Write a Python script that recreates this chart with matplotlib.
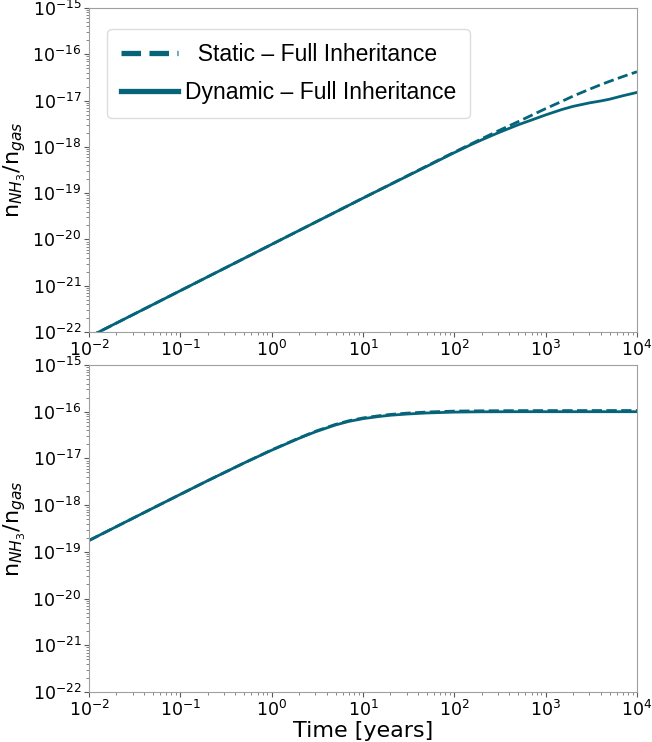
import matplotlib
matplotlib.use("Agg")
import matplotlib.pyplot as plt
from matplotlib.lines import Line2D
from matplotlib.ticker import LogLocator

# Time grid (years) and NH3 abundance relative to gas
time_top = [0.01, 0.1, 1.0, 10.0, 100.0, 150.0, 200.0, 300.0, 500.0, 700.0, 1000.0,
            1500.0, 2000.0, 3000.0, 4000.0, 5000.0, 7000.0, 10000.0]
static_top = [7.8e-23, 7.8e-22, 7.8e-21, 7.8e-20, 7.7e-19, 1.14e-18, 1.5e-18, 2.2e-18,
              3.5e-18, 4.8e-18, 6.7e-18, 9.6e-18, 1.25e-17, 1.75e-17, 2.2e-17, 2.6e-17,
              3.3e-17, 4.2e-17]
dynamic_top = [7.8e-23, 7.8e-22, 7.8e-21, 7.8e-20, 7.5e-19, 1.1e-18, 1.42e-18, 2.0e-18,
               3.0e-18, 3.8e-18, 4.9e-18, 6.4e-18, 7.5e-18, 8.9e-18, 9.8e-18, 1.07e-17,
               1.27e-17, 1.5e-17]

time_bot = [0.01, 0.02, 0.05, 0.1, 0.2, 0.5, 1.0, 2.0, 3.0, 5.0, 7.0, 10.0, 15.0, 20.0,
            30.0, 50.0, 100.0, 200.0, 500.0, 10000.0]
static_bot = [1.75e-19, 3.48e-19, 8.6e-19, 1.7e-18, 3.35e-18, 8.0e-18, 1.52e-17, 2.75e-17,
              3.8e-17, 5.35e-17, 6.4e-17, 7.35e-17, 8.2e-17, 8.75e-17, 9.3e-17, 9.85e-17,
              1.03e-16, 1.045e-16, 1.055e-16, 1.06e-16]
dynamic_bot = [1.75e-19, 3.48e-19, 8.6e-19, 1.7e-18, 3.35e-18, 8.0e-18, 1.5e-17, 2.7e-17,
               3.7e-17, 5.2e-17, 6.2e-17, 7.1e-17, 7.9e-17, 8.4e-17, 8.9e-17, 9.4e-17,
               9.8e-17, 9.95e-17, 1.0e-16, 1.0e-16]

labels = ["  Static – Full Inheritance", "Dynamic – Full Inheritance"]
x_limits = (1e-2, 1e4)
y_limits = (1e-22, 1e-15)

color = "#05647a"
spine_color = "#a0a0a0"

fig = plt.figure(figsize=(6.52, 7.42), dpi=100)
ax1 = fig.add_axes([0.1365, 0.5526, 0.8405, 0.4366])
ax2 = fig.add_axes([0.1365, 0.0674, 0.8405, 0.4407])

panels = [(ax1, time_top, static_top, dynamic_top),
          (ax2, time_bot, static_bot, dynamic_bot)]

for ax, t, s, d in panels:
    ax.plot(t, s, ls="--", color=color, lw=2.0)
    ax.plot(t, d, ls="-", color=color, lw=2.0)
    ax.set_xscale("log")
    ax.set_yscale("log")
    ax.set_xlim(*x_limits)
    ax.set_ylim(*y_limits)
    ax.set_ylabel(r"n$_{NH_3}$/n$_{gas}$", fontsize=16, labelpad=3)
    ax.tick_params(axis="both", which="major", labelsize=12.5, length=3.5,
                   color="0.35", pad=2)
    ax.tick_params(axis="both", which="minor", length=2, color="0.45")
    for sp in ax.spines.values():
        sp.set_color(spine_color)
    ax.yaxis.set_major_locator(LogLocator(base=10, numticks=20))
    ax.yaxis.set_minor_locator(LogLocator(base=10, subs=range(2, 10), numticks=20))

ax2.set_xlabel("Time [years]", fontsize=16, labelpad=1)

handles = [Line2D([], [], color=color, ls="--", lw=3.8),
           Line2D([], [], color=color, ls="-", lw=3.8)]
ax1.legend(handles, labels, loc="upper left", bbox_to_anchor=(0.012, 0.97),
           prop={"family": "Liberation Sans", "size": 16.5},
           handlelength=2.5, handletextpad=0.3, labelspacing=0.65,
           borderpad=0.6, fancybox=True, framealpha=1.0, edgecolor="#dddddd")

fig.savefig("out.png", dpi=100)
